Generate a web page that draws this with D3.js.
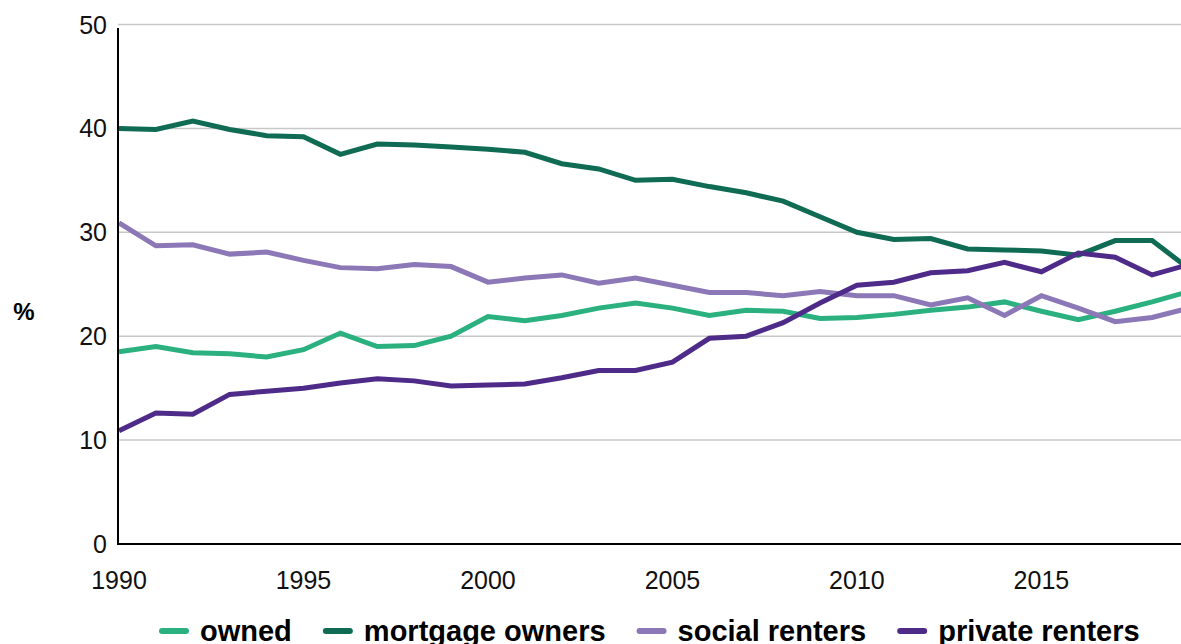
<!DOCTYPE html>
<html>
<head>
<meta charset="utf-8">
<script src="https://cdn.jsdelivr.net/npm/d3@7"></script>
<style>
  body { margin: 0; background: #fff; }
  svg { display: block; font-family: "Liberation Sans", Arial, sans-serif; }
</style>
</head>
<body>
<svg id="chart" width="1181" height="644"></svg>
<script>
const years = d3.range(1990, 2020);
const owned = [18.5, 19.0, 18.4, 18.3, 18.0, 18.7, 20.3, 19.0, 19.1, 20.0,
  21.9, 21.5, 22.0, 22.7, 23.2, 22.7, 22.0, 22.5, 22.4, 21.7,
  21.8, 22.1, 22.5, 22.8, 23.3, 22.4, 21.6, 22.4, 23.3, 24.3];
const mortgageOwners = [40.0, 39.9, 40.7, 39.9, 39.3, 39.2, 37.5, 38.5, 38.4, 38.2,
  38.0, 37.7, 36.6, 36.1, 35.0, 35.1, 34.4, 33.8, 33.0, 31.5,
  30.0, 29.3, 29.4, 28.4, 28.3, 28.2, 27.8, 29.2, 29.2, 26.5];
const socialRenters = [30.9, 28.7, 28.8, 27.9, 28.1, 27.3, 26.6, 26.5, 26.9, 26.7,
  25.2, 25.6, 25.9, 25.1, 25.6, 24.9, 24.2, 24.2, 23.9, 24.3,
  23.9, 23.9, 23.0, 23.7, 22.0, 23.9, 22.7, 21.4, 21.8, 22.7];
const privateRenters = [10.9, 12.6, 12.5, 14.4, 14.7, 15.0, 15.5, 15.9, 15.7, 15.2,
  15.3, 15.4, 16.0, 16.7, 16.7, 17.5, 19.8, 20.0, 21.3, 23.2,
  24.9, 25.2, 26.1, 26.3, 27.1, 26.2, 28.0, 27.6, 25.9, 26.9];
const xTicks = [1990, 1995, 2000, 2005, 2010, 2015];
const yTicks = [0, 10, 20, 30, 40, 50];

const series = [
  { name: 'owned', values: owned, color: '#2bb07f' },
  { name: 'mortgage owners', values: mortgageOwners, color: '#0f6b53' },
  { name: 'social renters', values: socialRenters, color: '#8c77b7' },
  { name: 'private renters', values: privateRenters, color: '#4f2b89' }
];

const svg = d3.select('#chart');
const width = +svg.attr('width');

const x = d3.scaleLinear().domain([1990, 2019]).range([119, 1189]);
const y = d3.scaleLinear().domain([0, 50]).range([544, 24.5]);

// gridlines
svg.append('g')
  .selectAll('line')
  .data(yTicks.filter(d => d > 0))
  .join('line')
  .attr('x1', 118).attr('x2', width)
  .attr('y1', d => y(d)).attr('y2', d => y(d))
  .attr('stroke', '#c8c8c8')
  .attr('stroke-width', 1.5);

// y tick labels
svg.append('g')
  .selectAll('text')
  .data(yTicks)
  .join('text')
  .attr('x', 107)
  .attr('y', d => y(d) + 9)
  .attr('text-anchor', 'end')
  .attr('font-size', 25)
  .attr('fill', '#111')
  .text(d => d);

// x tick labels
svg.append('g')
  .selectAll('text')
  .data(xTicks)
  .join('text')
  .attr('x', d => x(d))
  .attr('y', 589)
  .attr('text-anchor', 'middle')
  .attr('font-size', 25)
  .attr('fill', '#111')
  .text(d => d);

svg.append('text')
  .attr('x', 24).attr('y', 320)
  .attr('text-anchor', 'middle')
  .attr('font-size', 24)
  .attr('font-weight', 'bold')
  .text('%');

// lines
const line = d3.line()
  .x((d, i) => x(years[i]))
  .y(d => y(d));

series.forEach(s => {
  svg.append('path')
    .datum(s.values)
    .attr('fill', 'none')
    .attr('stroke', s.color)
    .attr('stroke-width', 5)
    .attr('d', line);
});

// axes
svg.append('line')
  .attr('x1', 118).attr('x2', 118)
  .attr('y1', 28).attr('y2', 545)
  .attr('stroke', '#000').attr('stroke-width', 2);
svg.append('line')
  .attr('x1', 117).attr('x2', width)
  .attr('y1', 544).attr('y2', 544)
  .attr('stroke', '#000').attr('stroke-width', 2);

// legend
const legend = svg.append('g').attr('transform', 'translate(159,0)');
let lx = 0;
series.forEach(s => {
  const item = legend.append('g').attr('transform', `translate(${lx},0)`);
  item.append('line')
    .attr('x1', 3).attr('x2', 27)
    .attr('y1', 631).attr('y2', 631)
    .attr('stroke', s.color)
    .attr('stroke-width', 6)
    .attr('stroke-linecap', 'round');
  const t = item.append('text')
    .attr('x', 41).attr('y', 641)
    .attr('font-size', 29)
    .attr('font-weight', 'bold')
    .attr('fill', '#000')
    .text(s.name);
  lx += 41 + t.node().getComputedTextLength() + 31;
});
</script>
</body>
</html>
